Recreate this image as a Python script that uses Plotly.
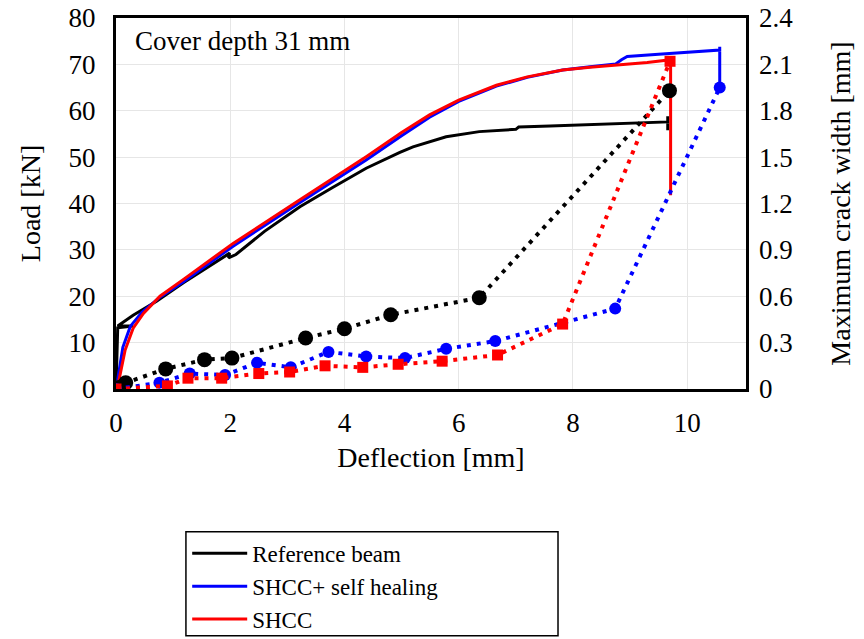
import plotly.graph_objects as go

# ---- Load–deflection curves (left axis, kN) ----
ref_x = [0, 0.03, 0.30, 0.03, 0.30, 0.71, 1.18, 1.5, 1.99, 1.97, 2.1, 2.6, 3.22, 3.8, 4.38, 4.97, 5.2, 5.78, 6.36, 7.0, 7.05, 7.6, 8.11, 8.6, 9.16, 9.66, 9.66, 9.66]
ref_y = [0, 13.2, 13.6, 13.6, 15.9, 18.9, 22.9, 25.5, 29.3, 28.3, 29.0, 34.0, 39.3, 43.5, 47.6, 51.0, 52.2, 54.4, 55.5, 56.0, 56.5, 56.7, 56.9, 57.2, 57.4, 57.6, 58.8, 55.8]

heal_x = [0, 0.03, 0.12, 0.25, 0.45, 0.77, 1.2, 2.05, 3.22, 4.38, 5.0, 5.49, 6.0, 6.66, 7.2, 7.82, 8.3, 8.75, 8.85, 8.95, 9.5, 10.0, 10.57, 10.57, 10.57]
heal_y = [0, 2.0, 9.0, 13.5, 16.5, 19.8, 23.3, 30.8, 40.2, 49.4, 54.6, 58.6, 62.0, 65.3, 67.2, 68.8, 69.5, 70.1, 71.0, 71.7, 72.2, 72.6, 73.1, 73.8, 65.1]

shcc_x = [0, 0.04, 0.16, 0.3, 0.48, 0.77, 1.2, 2.05, 3.22, 4.38, 5.0, 5.49, 6.0, 6.66, 7.2, 7.82, 8.3, 8.81, 9.3, 9.71, 9.71]
shcc_y = [0, 1.2, 8.4, 13.1, 16.3, 20.0, 23.8, 31.4, 40.8, 50.1, 55.3, 59.1, 62.3, 65.5, 67.3, 68.8, 69.4, 69.9, 70.4, 71.0, 41.8]

# ---- Maximum crack width (right axis, mm) ----
ref_cw_x = [0, 0.05, 0.17, 0.87, 1.55, 2.03, 3.32, 4.0, 4.81, 6.36, 9.69]
ref_cw_y = [0, 0.01, 0.04, 0.13, 0.19, 0.20, 0.33, 0.39, 0.48, 0.59, 1.93]

heal_cw_x = [0, 0.76, 1.29, 1.91, 2.47, 3.06, 3.72, 4.38, 5.06, 5.78, 6.64, 8.74, 10.57]
heal_cw_y = [0, 0.04, 0.10, 0.09, 0.17, 0.14, 0.24, 0.21, 0.20, 0.26, 0.31, 0.52, 1.95]

shcc_cw_x = [0, 0.9, 1.26, 1.85, 2.5, 3.04, 3.66, 4.32, 4.94, 5.71, 6.68, 7.82, 9.70]
shcc_cw_y = [0, 0.02, 0.07, 0.07, 0.10, 0.11, 0.15, 0.14, 0.16, 0.18, 0.22, 0.42, 2.12]

x_ticks = [0, 2, 4, 6, 8, 10]
y_ticks = [0, 10, 20, 30, 40, 50, 60, 70, 80]
y2_ticks = [0, 0.3, 0.6, 0.9, 1.2, 1.5, 1.8, 2.1, 2.4]
y2_labels = ["0", "0.3", "0.6", "0.9", "1.2", "1.5", "1.8", "2.1", "2.4"]

BLACK, BLUE, RED = "#000000", "#0000ff", "#ff0000"
FONT = "Liberation Serif"
DOT = "4px,6px"

fig = go.Figure()

# crack-width series (dotted with markers)
fig.add_trace(go.Scatter(x=ref_cw_x, y=ref_cw_y, yaxis="y2", mode="lines+markers",
                         line=dict(color=BLACK, width=4, dash=DOT),
                         marker=dict(symbol="circle", size=15, color=BLACK), showlegend=False))
fig.add_trace(go.Scatter(x=heal_cw_x, y=heal_cw_y, yaxis="y2", mode="lines+markers",
                         line=dict(color=BLUE, width=4, dash=DOT),
                         marker=dict(symbol="circle", size=12, color=BLUE), showlegend=False))
fig.add_trace(go.Scatter(x=shcc_cw_x, y=shcc_cw_y, yaxis="y2", mode="lines+markers",
                         line=dict(color=RED, width=4, dash=DOT),
                         marker=dict(symbol="square", size=11, color=RED), showlegend=False))

# load curves
fig.add_trace(go.Scatter(x=ref_x, y=ref_y, mode="lines", name="Reference beam",
                         line=dict(color=BLACK, width=3)))
fig.add_trace(go.Scatter(x=heal_x, y=heal_y, mode="lines", name="SHCC+ self healing",
                         line=dict(color=BLUE, width=3)))
fig.add_trace(go.Scatter(x=shcc_x, y=shcc_y, mode="lines", name="SHCC",
                         line=dict(color=RED, width=3)))

fig.update_layout(
    width=864, height=639,
    margin=dict(l=116, r=118, t=18, b=250, autoexpand=False),
    paper_bgcolor="white", plot_bgcolor="white",
    font=dict(family=FONT, size=27, color="black"),
    showlegend=True,
    legend=dict(x=0.113, y=-0.385, xanchor="left", yanchor="top",
                borderwidth=0, bgcolor="rgba(0,0,0,0)",
                font=dict(family=FONT, size=23, color="black"),
                itemwidth=55, tracegroupgap=0),
    xaxis=dict(range=[0, 11.03], tickvals=x_ticks, showgrid=True, gridcolor="#e6e6e6", gridwidth=1,
               showline=True, linecolor="black", linewidth=3, mirror=True, ticks="",
               zeroline=False, tickfont=dict(size=27), ticklabelstandoff=8,
               title=dict(text="Deflection [mm]", font=dict(size=28), standoff=10)),
    yaxis=dict(range=[0, 80], tickvals=y_ticks, showgrid=True, gridcolor="#e6e6e6", gridwidth=1,
               showline=True, linecolor="black", linewidth=3, mirror=True, ticks="",
               zeroline=False, tickfont=dict(size=27), ticklabelstandoff=12,
               title=dict(text="Load [kN]", font=dict(size=28), standoff=20)),
    yaxis2=dict(range=[0, 2.4], tickvals=y2_ticks, ticktext=y2_labels, overlaying="y", side="right",
                showgrid=False, zeroline=False, showline=False, ticks="",
                tickfont=dict(size=27), ticklabelstandoff=12,
                title=dict(text="Maximum crack width [mm]", font=dict(size=28), standoff=38)),
    annotations=[dict(text="Cover depth 31 mm", xref="paper", yref="paper", x=0.027, y=0.985,
                      xanchor="left", yanchor="top", showarrow=False,
                      font=dict(family=FONT, size=27, color="black"))],
    shapes=[dict(type="rect", xref="paper", yref="paper", x0=0.111, x1=0.7016,
                 y0=-0.665, y1=-0.385, line=dict(color="black", width=1.5),
                 fillcolor="rgba(0,0,0,0)", layer="above")],
)

fig.write_html("out.html")
